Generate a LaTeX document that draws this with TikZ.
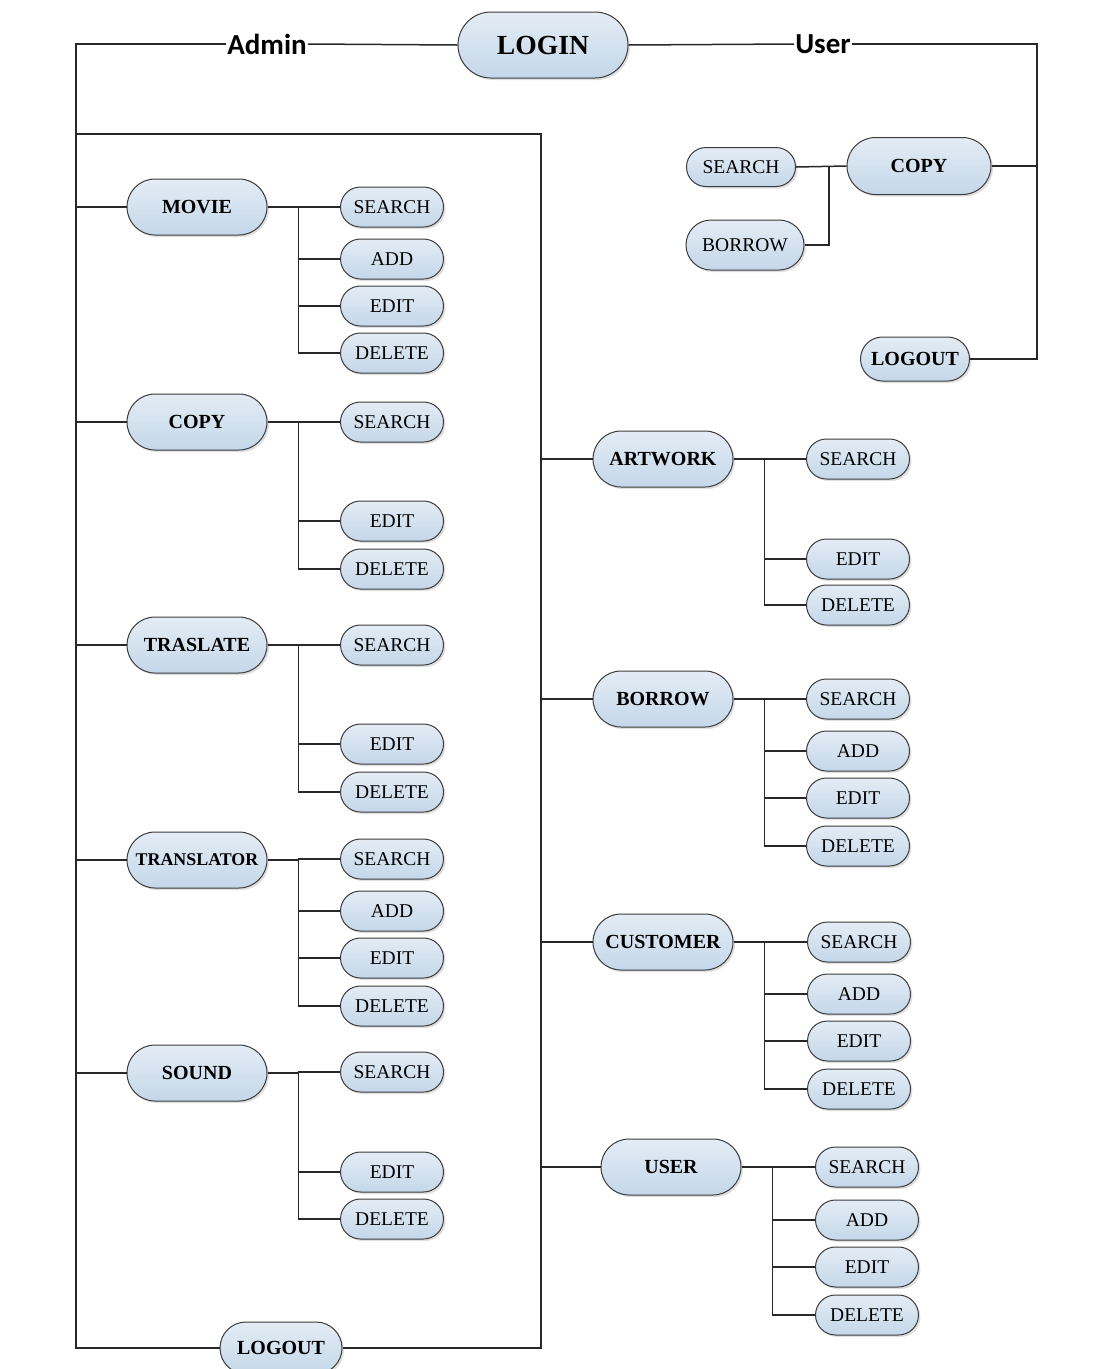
\documentclass[tikz,border=0pt]{standalone}
\usepackage{fontspec}
\setmainfont{Liberation Serif}
\newfontfamily\rolefont{Carlito}
\usetikzlibrary{shapes.misc,shadows}

\definecolor{boxtop}{RGB}{228,236,245}
\definecolor{boxbot}{RGB}{196,215,233}
\definecolor{boxline}{RGB}{60,60,60}
\definecolor{wirecol}{RGB}{40,40,40}

\begin{document}
\begin{tikzpicture}[
		x=1pt, y=-1pt,
		every node/.style={inner sep=0pt},
		box/.style={rounded rectangle, draw=boxline, line width=1pt,
			top color=boxtop, bottom color=boxbot,
			drop shadow={shadow xshift=2pt, shadow yshift=-2pt, opacity=0.25}},
		leaf/.style={box, minimum width=103, minimum height=40,
			font=\fontsize{19.5}{20}\selectfont},
		main/.style={box, minimum width=140, minimum height=56,
			font=\fontsize{20}{21}\selectfont\bfseries},
		role/.style={font=\fontsize{29}{30}\selectfont\rolefont\bfseries, inner sep=1pt},
		wire/.style={draw=wirecol, line width=1.5pt}
	]
  \useasboundingbox (0,0) rectangle (1098,1369);

  % top line
  \node (login) [box, minimum width=170, minimum height=66,
    font=\fontsize{27.6}{28}\selectfont\bfseries] at (543,45) {LOGIN};
  \node (admin) [role] at (267,44) {Admin};
  \node (user) [role] at (823,44) {User};
  \coordinate (tl) at (76,44);
  \coordinate (tr) at (1037,44);
  \coordinate (bl) at (76,1348);
  \coordinate (br) at (541,1348);
  \coordinate (boxtl) at (76,134);
  \coordinate (boxtr) at (541,134);

  % admin side
  \node (logoutA) [main, minimum width=122, minimum height=52] at (281,1348) {LOGOUT};
  \draw [wire] (login.west) -- (admin.east);
  \draw [wire] (admin.west) -- (tl) -- (bl) -- (logoutA.west);
  \draw [wire] (logoutA.east) -- (br) -- (boxtr) -- (boxtl);

  \node (movie) [main] at (197,207) {MOVIE};
  \draw [wire] (movie.west) -- (movie.west -| tl);
  \foreach \t/\y [count=\i] in {SEARCH/207, ADD/259, EDIT/306, DELETE/353}{
    \node (movie\i) [leaf] at (392,\y) {\t};
    \draw [wire] (movie.east) -- ++(31,0) |- (movie\i.west);
  }

  \node (copyA) [main] at (197,422) {COPY};
  \draw [wire] (copyA.west) -- (copyA.west -| tl);
  \foreach \t/\y [count=\i] in {SEARCH/422, EDIT/521, DELETE/569}{
    \node (copyA\i) [leaf] at (392,\y) {\t};
    \draw [wire] (copyA.east) -- ++(31,0) |- (copyA\i.west);
  }

  \node (traslate) [main] at (197,645) {TRASLATE};
  \draw [wire] (traslate.west) -- (traslate.west -| tl);
  \foreach \t/\y [count=\i] in {SEARCH/645, EDIT/744, DELETE/792}{
    \node (traslate\i) [leaf] at (392,\y) {\t};
    \draw [wire] (traslate.east) -- ++(31,0) |- (traslate\i.west);
  }

  \node (translator) [main, font=\fontsize{17.9}{18}\selectfont\bfseries] at (197,860) {TRANSLATOR};
  \draw [wire] (translator.west) -- (translator.west -| tl);
  \foreach \t/\y [count=\i] in {SEARCH/859, ADD/911, EDIT/958, DELETE/1006}{
    \node (translator\i) [leaf] at (392,\y) {\t};
    \draw [wire] (translator.east) -- ++(31,0) |- (translator\i.west);
  }

  \node (sound) [main] at (197,1073) {SOUND};
  \draw [wire] (sound.west) -- (sound.west -| tl);
  \foreach \t/\y [count=\i] in {SEARCH/1072, EDIT/1172, DELETE/1219}{
    \node (sound\i) [leaf] at (392,\y) {\t};
    \draw [wire] (sound.east) -- ++(31,0) |- (sound\i.west);
  }

  \node (artwork) [main] at (663,459) {ARTWORK};
  \draw [wire] (artwork.west) -- (artwork.west -| br);
  \foreach \t/\y [count=\i] in {SEARCH/459, EDIT/559, DELETE/605}{
    \node (artwork\i) [leaf] at (858,\y) {\t};
    \draw [wire] (artwork.east) -- ++(31,0) |- (artwork\i.west);
  }

  \node (borrow) [main] at (663,699) {BORROW};
  \draw [wire] (borrow.west) -- (borrow.west -| br);
  \foreach \t/\y [count=\i] in {SEARCH/699, ADD/751, EDIT/798, DELETE/846}{
    \node (borrow\i) [leaf] at (858,\y) {\t};
    \draw [wire] (borrow.east) -- ++(31,0) |- (borrow\i.west);
  }

  \node (customer) [main] at (663,942) {CUSTOMER};
  \draw [wire] (customer.west) -- (customer.west -| br);
  \foreach \t/\y [count=\i] in {SEARCH/942, ADD/994, EDIT/1041, DELETE/1089}{
    \node (customer\i) [leaf] at (859,\y) {\t};
    \draw [wire] (customer.east) -- ++(31,0) |- (customer\i.west);
  }

  \node (users) [main] at (671,1167) {USER};
  \draw [wire] (users.west) -- (users.west -| br);
  \foreach \t/\y [count=\i] in {SEARCH/1167, ADD/1220, EDIT/1267, DELETE/1315}{
    \node (users\i) [leaf] at (867,\y) {\t};
    \draw [wire] (users.east) -- ++(31,0) |- (users\i.west);
  }

  % user side
  \node (copyU) [main, minimum width=144, minimum height=57] at (919,166) {COPY};
  \node (searchU) [leaf, minimum width=109, minimum height=39] at (741,167) {SEARCH};
  \node (borrowU) [leaf, minimum width=118, minimum height=50] at (745,245) {BORROW};
  \node (logoutU) [main, minimum width=109, minimum height=44] at (915,359) {LOGOUT};
  \coordinate (ub) at (829,167);
  \draw [wire] (login.east) -- (user.west);
  \draw [wire] (user.east) -- (tr) -- (tr |- logoutU.east) -- (logoutU.east);
  \draw [wire] (copyU.east) -- (copyU.east -| tr);
  \draw [wire] (searchU.east) -- (copyU.west);
  \draw [wire] (borrowU.east) -| (ub);
\end{tikzpicture}
\end{document}
